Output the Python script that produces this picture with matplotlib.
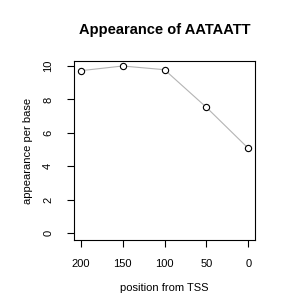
import matplotlib
matplotlib.use("Agg")
import matplotlib.pyplot as plt

positions = [200, 150, 100, 50, 0]
appearance = [9.72, 10.0, 9.78, 7.53, 5.08]
x_ticks = [200, 150, 100, 50, 0]
y_ticks = [0, 2, 4, 6, 8, 10]

plt.rcParams["font.family"] = ["Liberation Sans", "DejaVu Sans"]

fig = plt.figure(figsize=(3, 3), dpi=100)
ax = fig.add_axes([0.2467, 0.2, 0.6033, 0.5967])

ax.plot(positions, appearance, color="#b4b4b4", linewidth=0.8, zorder=1)
ax.plot(positions, appearance, linestyle="none", marker="o", markersize=4.5,
        markerfacecolor="white", markeredgecolor="black", markeredgewidth=0.8, zorder=2)

ax.set_xlim(208, -8)
ax.set_ylim(-0.4, 10.3)
ax.set_xticks(x_ticks)
ax.set_yticks(y_ticks)
ax.set_yticklabels([str(v) for v in y_ticks], rotation=90, va="center")
ax.tick_params(direction="out", length=5, width=0.8, labelsize=8)
ax.tick_params(axis="x", pad=9)
ax.tick_params(axis="y", pad=10)
for s in ax.spines.values():
    s.set_linewidth(0.8)

ax.set_xlabel("position from TSS", fontsize=8, labelpad=10)
ax.set_ylabel("appearance per base", fontsize=8, labelpad=7)
fig.text(0.55, 0.9, "Appearance of AATAATT", ha="center", va="center",
         fontsize=10.5, fontweight="bold")

fig.savefig("out.png", dpi=100)
